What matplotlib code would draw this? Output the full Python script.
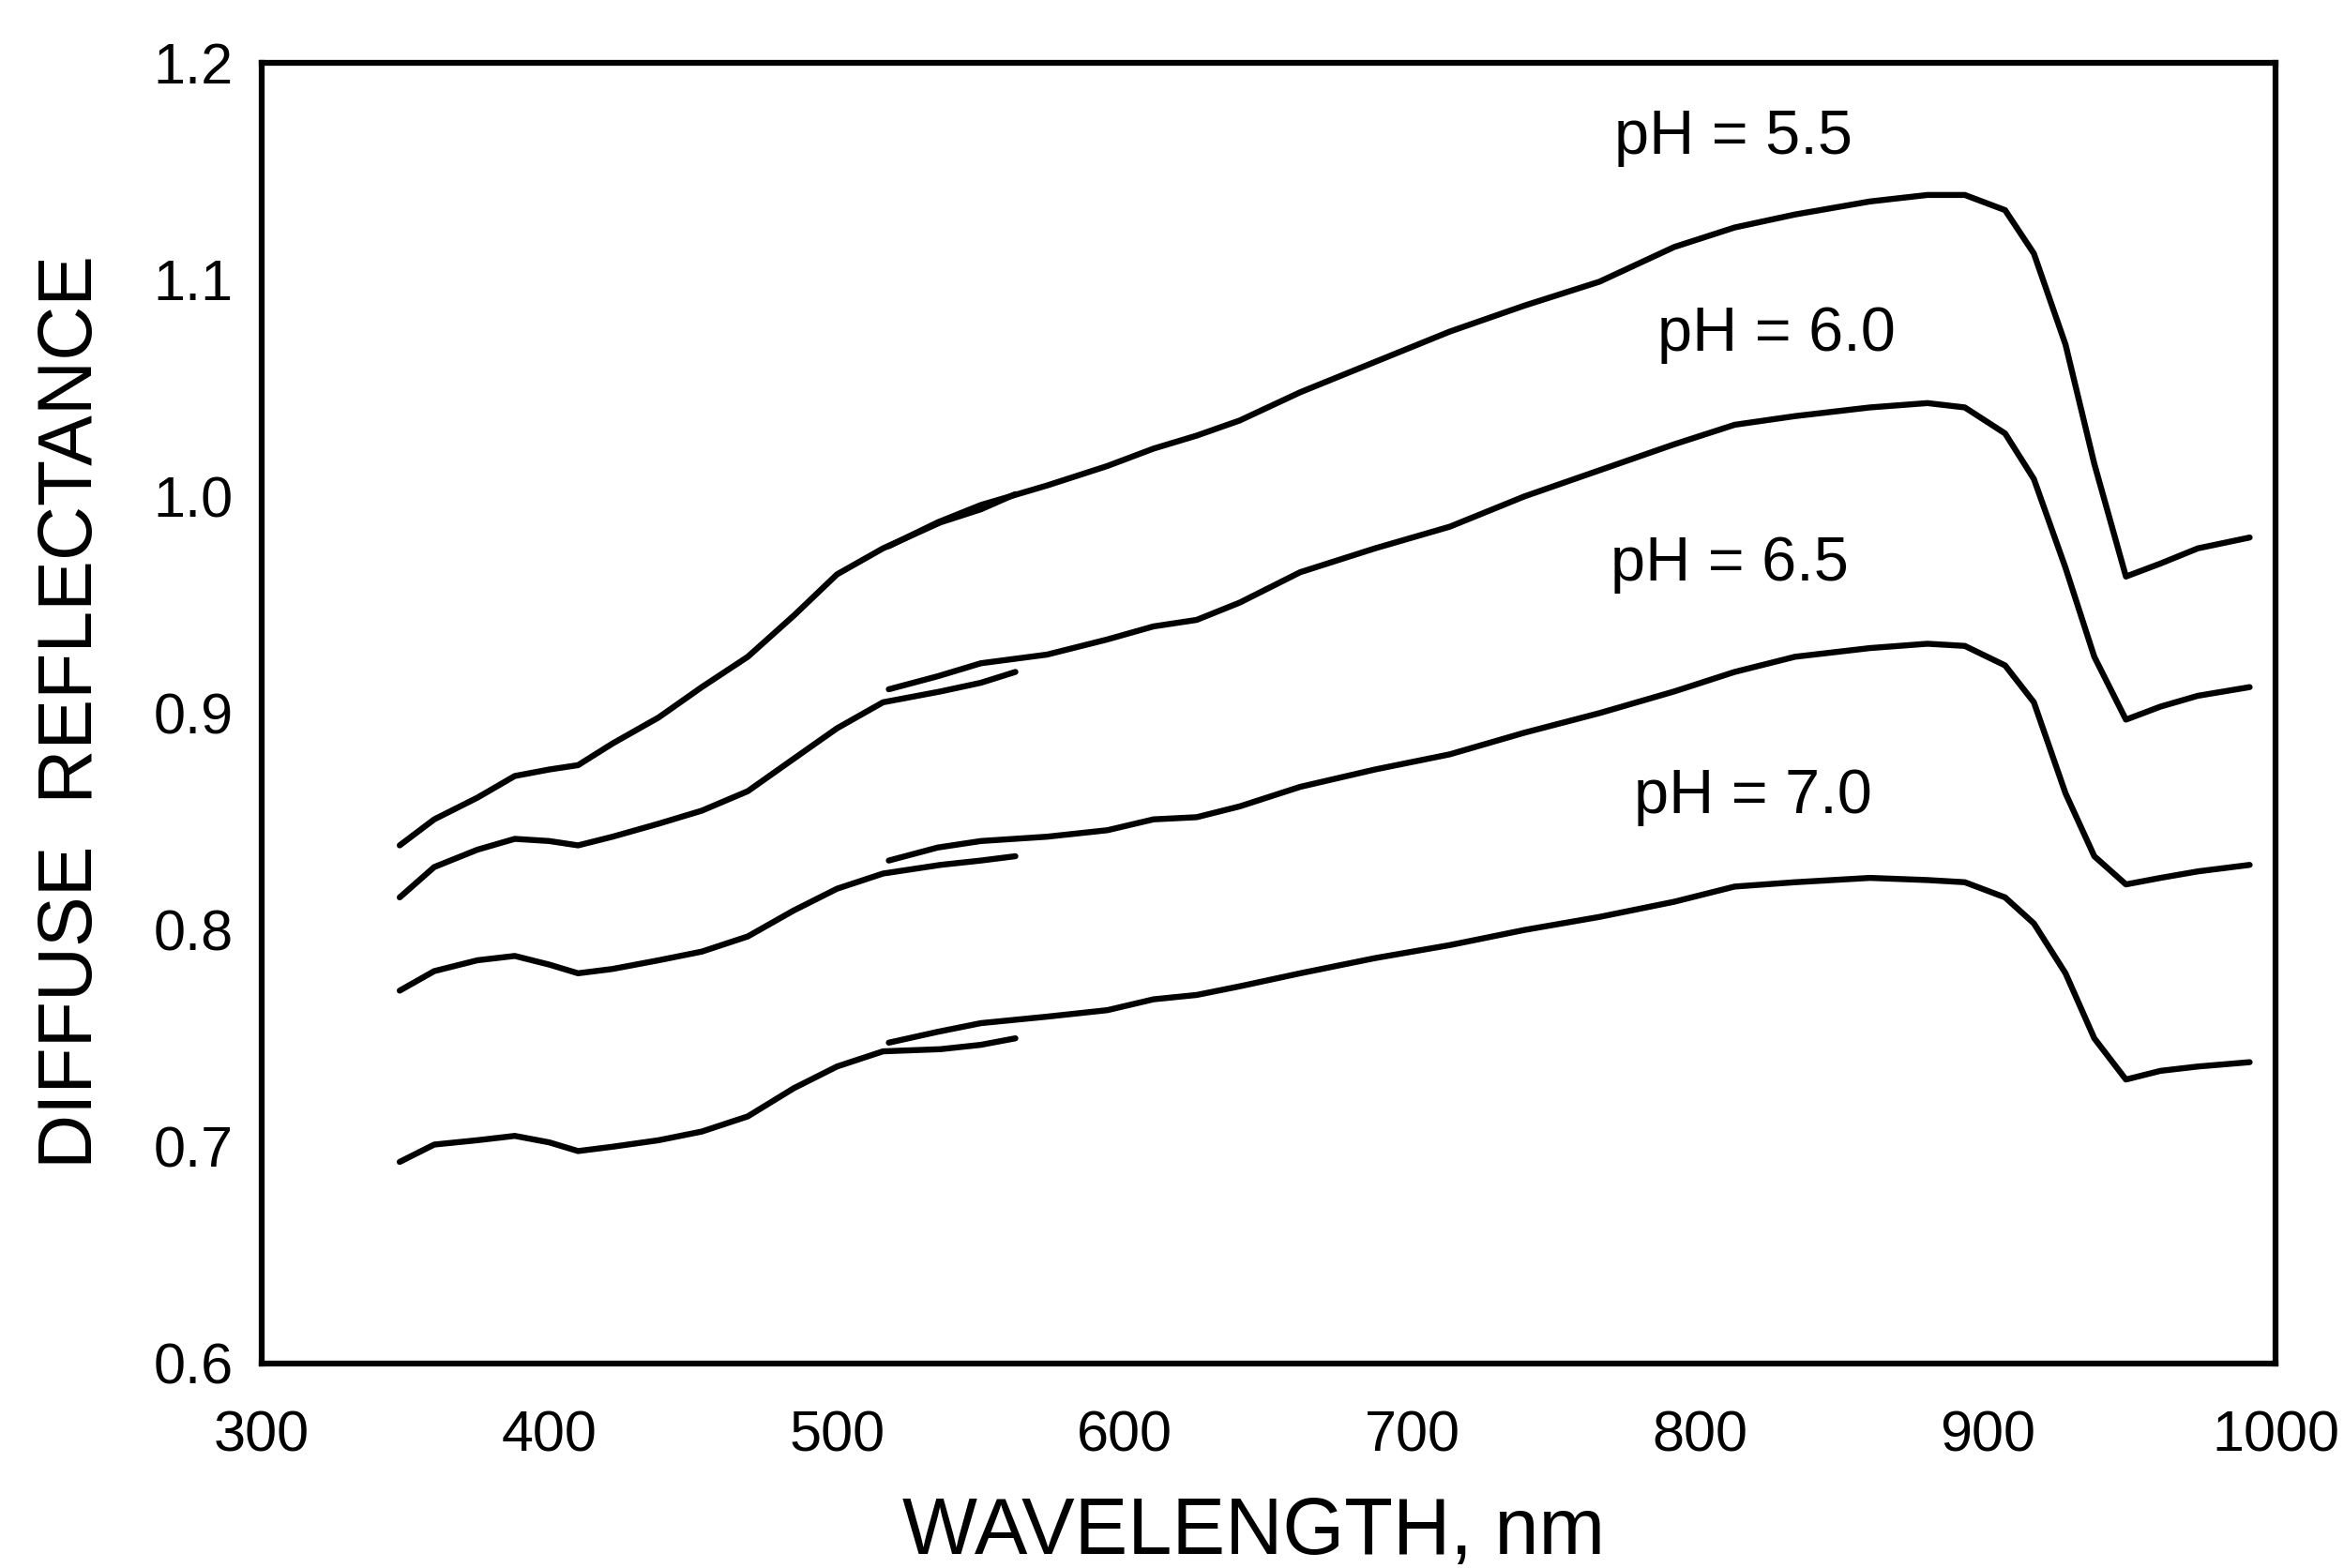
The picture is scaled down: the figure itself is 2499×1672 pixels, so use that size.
import matplotlib.pyplot as plt

plt.rcParams['font.family'] = ['Liberation Sans', 'DejaVu Sans']

# wavelength grids (nm): two detector ranges that overlap around 520-560 nm
wl_left = [348, 360, 375, 388, 400, 410, 422, 438, 453, 469, 485, 500, 516, 536, 550, 562]
wl_right = [518, 535, 550, 573, 594, 610, 625, 640, 661, 687, 713, 739, 765, 791, 812,
            833, 859, 879, 892, 906, 916, 927, 937, 948, 960, 973, 991]

labels = ['pH = 5.5', 'pH = 6.0', 'pH = 6.5', 'pH = 7.0']

left_55 = [0.839, 0.851, 0.861, 0.871, 0.874, 0.876, 0.886, 0.898, 0.912, 0.926, 0.945, 0.964, 0.976, 0.988, 0.994, 1.001]
right_55 = [0.977, 0.988, 0.996, 1.005, 1.014, 1.022, 1.028, 1.035, 1.048, 1.062, 1.076, 1.088, 1.099, 1.115, 1.124,
            1.130, 1.136, 1.139, 1.139, 1.132, 1.112, 1.070, 1.015, 0.963, 0.969, 0.976, 0.981]

left_60 = [0.815, 0.829, 0.837, 0.842, 0.841, 0.839, 0.843, 0.849, 0.855, 0.864, 0.879, 0.893, 0.905, 0.910, 0.914, 0.919]
right_60 = [0.911, 0.917, 0.923, 0.927, 0.934, 0.940, 0.943, 0.951, 0.965, 0.976, 0.986, 1.000, 1.012, 1.024, 1.033,
            1.037, 1.041, 1.043, 1.041, 1.029, 1.008, 0.967, 0.926, 0.897, 0.903, 0.908, 0.912]

left_65 = [0.772, 0.781, 0.786, 0.788, 0.784, 0.780, 0.782, 0.786, 0.790, 0.797, 0.809, 0.819, 0.826, 0.830, 0.832, 0.834]
right_65 = [0.832, 0.838, 0.841, 0.843, 0.846, 0.851, 0.852, 0.857, 0.866, 0.874, 0.881, 0.891, 0.900, 0.910, 0.919,
            0.926, 0.930, 0.932, 0.931, 0.922, 0.905, 0.863, 0.834, 0.821, 0.824, 0.827, 0.830]

left_70 = [0.693, 0.701, 0.703, 0.705, 0.702, 0.698, 0.700, 0.703, 0.707, 0.714, 0.727, 0.737, 0.744, 0.745, 0.747, 0.750]
right_70 = [0.748, 0.753, 0.757, 0.760, 0.763, 0.768, 0.770, 0.774, 0.780, 0.787, 0.793, 0.800, 0.806, 0.813, 0.820,
            0.822, 0.824, 0.823, 0.822, 0.815, 0.803, 0.780, 0.750, 0.731, 0.735, 0.737, 0.739]

# where each pH label sits (left edge / baseline, data coords)
label_x = [770, 785, 769, 777]
label_y = [1.158, 1.067, 0.961, 0.854]

fig = plt.figure(figsize=(24.99, 16.72), dpi=100)
ax = fig.add_axes([0.1116, 0.1304, 0.8592, 0.8296])

for left, right in [(left_55, right_55), (left_60, right_60), (left_65, right_65), (left_70, right_70)]:
    ax.plot(wl_left, left, color='black', lw=4.6, solid_capstyle='round', solid_joinstyle='round')
    ax.plot(wl_right, right, color='black', lw=4.6, solid_capstyle='round', solid_joinstyle='round')

for txt, x, y in zip(labels, label_x, label_y):
    ax.text(x, y, txt, fontsize=48, ha='left', va='baseline')

ax.set_xlim(300, 1000)
ax.set_ylim(0.6, 1.2)
ax.set_xticks(range(300, 1001, 100))
ax.set_yticks([0.6, 0.7, 0.8, 0.9, 1.0, 1.1, 1.2])
ax.set_yticklabels(['0.6', '0.7', '0.8', '0.9', '1.0', '1.1', '1.2'])
ax.tick_params(length=0, labelsize=44)
ax.tick_params(axis='x', pad=36)
ax.tick_params(axis='y', pad=22)
for s in ax.spines.values():
    s.set_linewidth(4.5)

fig.text(0.535, 0.022, 'WAVELENGTH, nm', fontsize=61, ha='center', va='center')
fig.text(0.031, 0.546, 'DIFFUSE  REFLECTANCE', fontsize=58, ha='center', va='center', rotation=90)

fig.savefig('out.png', dpi=100)
